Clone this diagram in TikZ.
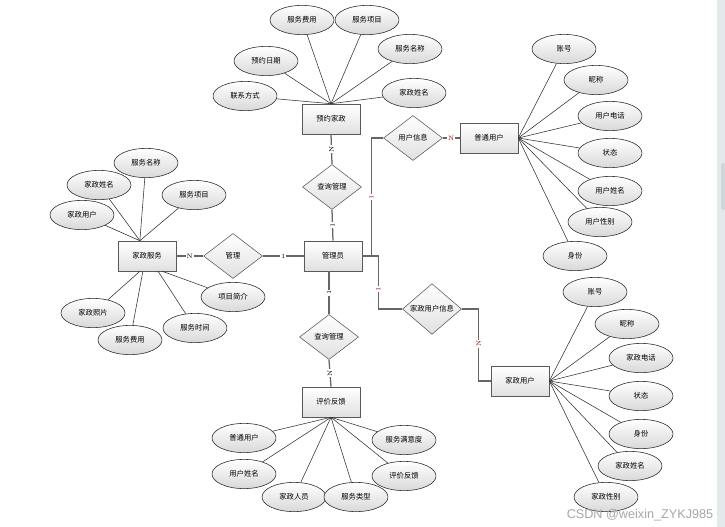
\documentclass[tikz,border=0pt]{standalone}
\usepackage{fontspec}
\usepackage{tikz}
\usetikzlibrary{shapes.geometric}
\newfontfamily\cjk{Noto Sans CJK SC}
\newfontfamily\wmfont{Liberation Sans}
\definecolor{stripgray}{RGB}{228,234,236}
\definecolor{thumbgray}{RGB}{206,214,217}

\begin{document}
\begin{tikzpicture}[x=0.025cm,y=-0.025cm,font=\cjk\fontsize{5.2}{6}\selectfont]
\tikzstyle{ent}=[rectangle,draw=black!65,top color=white,bottom color=black!12,minimum width=1.45cm,minimum height=0.75cm,inner sep=1pt];
\tikzstyle{rel}=[diamond,draw=black!65,top color=white,bottom color=black!12,minimum width=1.475cm,minimum height=1.125cm,inner sep=0pt];
\tikzstyle{attr}=[ellipse,draw=black!85,top color=white,bottom color=black!15,minimum width=1.6cm,minimum height=0.73cm,inner sep=0pt];
\tikzstyle{link}=[draw=black!80,line width=0.4pt];
\tikzstyle{conn}=[draw=black!60,line width=0.9pt];
\tikzstyle{card}=[fill=white,inner sep=0.6pt,font=\fontsize{4.5}{5}\selectfont];
\useasboundingbox (0,0) rectangle (725,527);
\fill [stripgray] (717,0) rectangle (725,527);
\fill [thumbgray,rounded corners=1pt] (721,163) rectangle (725,210);

% entities
\node [ent] (yyjz) at (331,119) {预约家政};
\node [ent] (gly) at (333,256) {管理员};
\node [ent] (jzfw) at (147,256) {家政服务};
\node [ent] (ptyh) at (489,138) {普通用户};
\node [ent] (jzyh) at (520,381) {家政用户};
\node [ent] (pjfk) at (331,402) {评价反馈};

% relations
\node [rel] (cx1) at (332,187) {查询管理};
\node [rel] (yhxx) at (413,138) {用户信息};
\node [rel] (gl) at (233,256) {管理};
\node [rel] (jzxx) at (432,309) {家政用户信息};
\node [rel] (cx2) at (329,337) {查询管理};

% attributes of 预约家政
\node [attr] (a1) at (302,20) {服务费用};
\node [attr] (a2) at (367,20) {服务项目};
\node [attr] (a3) at (410,49) {服务名称};
\node [attr] (a4) at (266,61) {预约日期};
\node [attr] (a5) at (245,96) {联系方式};
\node [attr] (a6) at (414,93) {家政姓名};
\foreach \a in {a1,a2,a3,a4,a5,a6}
  \draw [link] (\a) -- (yyjz.north);

% attributes of 家政服务
\node [attr] (b1) at (146,163) {服务名称};
\node [attr] (b2) at (99,185) {家政姓名};
\node [attr] (b3) at (82,215) {家政用户};
\node [attr] (b4) at (194,195) {服务项目};
\node [attr] (b5) at (233,297) {项目简介};
\node [attr] (b6) at (93,313) {家政照片};
\node [attr] (b7) at (130,340) {服务费用};
\node [attr] (b8) at (195,328) {服务时间};
\foreach \a in {b1,b2,b3,b4}
  \draw [link] (\a) -- (jzfw.115);
\draw [link] (b6) -- (jzfw.-115);
\draw [link] (b7) -- (jzfw.-105);
\draw [link] (b8) -- (jzfw.-54);
\draw [link] (b5) -- (jzfw.-45);

% attributes of 普通用户
\node [attr] (c1) at (564,49) {账号};
\node [attr] (c2) at (596,80) {昵称};
\node [attr] (c3) at (610,116) {用户电话};
\node [attr] (c4) at (610,153) {状态};
\node [attr] (c5) at (610,191) {用户姓名};
\node [attr] (c6) at (600,222) {用户性别};
\node [attr] (c7) at (575,256) {身份};
\foreach \a in {c1,c2,c3,c4,c5,c6,c7}
  \draw [link] (\a) -- (ptyh.east);

% attributes of 家政用户
\node [attr] (d1) at (595,292) {账号};
\node [attr] (d2) at (627,324) {昵称};
\node [attr] (d3) at (641,358) {家政电话};
\node [attr] (d4) at (641,396) {状态};
\node [attr] (d5) at (641,434) {身份};
\node [attr] (d6) at (630,466) {家政姓名};
\node [attr] (d7) at (606,497) {家政性别};
\foreach \a in {d1,d2,d3,d4,d5,d6,d7}
  \draw [link] (\a) -- (jzyh.east);

% attributes of 评价反馈
\node [attr] (e1) at (244,438) {普通用户};
\node [attr] (e2) at (244,474) {用户姓名};
\node [attr] (e3) at (294,497) {家政人员};
\node [attr] (e4) at (356,497) {服务类型};
\node [attr] (e5) at (404,440) {服务满意度};
\node [attr] (e6) at (404,476) {评价反馈};
\foreach \a in {e1,e2,e3,e4,e5,e6}
  \draw [link] (\a) -- (pjfk.south);

% relation lines
\draw [conn] (yyjz.south) -- node [card,rotate=90] {N} (cx1.north);
\draw [conn] (cx1.south) -- node [card,rotate=90] {1} (gly.north);
\draw [conn] (cx2.north |- gly.south) -- node [card,rotate=90] {1} (cx2.north);
\draw [conn] (cx2.south) -- node [card,rotate=90] {N} (pjfk.north);
\draw [conn] (jzfw.east) -- node [card] {N} (gl.west);
\draw [conn] (gl.east) -- node [card] {1} (gly.west);
\draw [conn] (yhxx.east) -- node [card,text=red!70!black] {N} (ptyh.west);
\draw [conn] (gly.east) -- ++(9,0) |- node [card,rotate=90,pos=0.25,text=red!70!black] {1} (yhxx.west);
\draw [conn] (gly.east) -- ++(16,0) |- node [card,rotate=90,pos=0.31,text=red!70!black] {1} (jzxx.west);
\draw [conn] (jzxx.east) -- ++(17,0) |- node [card,rotate=90,pos=0.24,text=red!70!black] {N} (jzyh.west);

\node [text=black!35,font=\wmfont\fontsize{9}{10}\selectfont] (wm) at (640,515) {CSDN @weixin\_ZYKJ985};
\end{tikzpicture}
\end{document}
